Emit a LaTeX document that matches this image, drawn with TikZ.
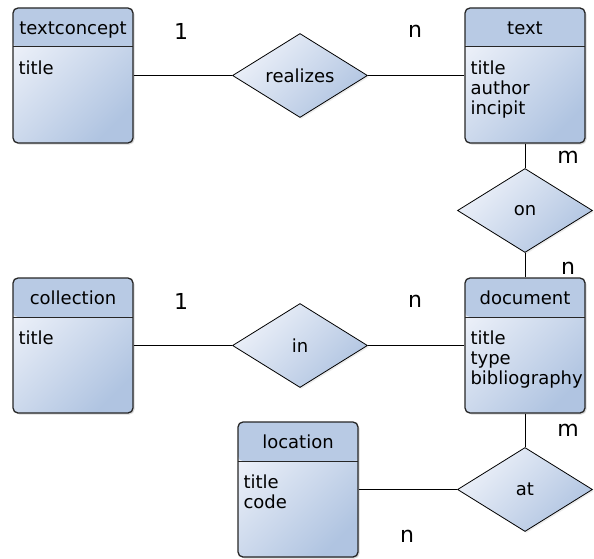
\documentclass[tikz,border=0pt]{standalone}
\usepackage{fontspec}
\setmainfont{DejaVu Sans}
\usetikzlibrary{shapes.geometric,shadows}
\definecolor{headfill}{HTML}{B8CAE4}
\definecolor{bodylight}{HTML}{EDF1F9}
\definecolor{bodydark}{HTML}{B0C4E1}
\tikzset{
  entity/.style={draw=black!85, line width=1.3pt, rounded corners=5pt,
    minimum width=120pt, minimum height=135pt, inner sep=0pt,
    top color=bodylight, bottom color=bodydark, shading angle=45,
    drop shadow={shadow xshift=1.5pt, shadow yshift=-1.5pt, opacity=.3},
    path picture={
      \fill[headfill] (path picture bounding box.north west) rectangle ([yshift=-39pt]path picture bounding box.north east);
      \draw[line width=1pt] ([yshift=-39pt]path picture bounding box.north west) -- ([yshift=-39pt]path picture bounding box.north east);
    }},
  ename/.style={anchor=base, inner sep=0pt, font=\fontsize{18}{20}\selectfont},
  attrs/.style={anchor=north west, align=left, inner sep=0pt, font=\fontsize{18}{20}\selectfont},
  relation/.style={diamond, draw=black, line width=.8pt, minimum width=135pt, minimum height=84pt,
    inner sep=0pt, aspect=1.6, top color=bodylight, bottom color=bodydark, shading angle=45,
    drop shadow={shadow xshift=1.5pt, shadow yshift=-1.5pt, opacity=.15},
    font=\fontsize{18}{20}\selectfont},
  card/.style={inner sep=0pt, font=\fontsize{22}{24}\selectfont},
  link/.style={draw=black, line width=.8pt}
}
\begin{document}
\begin{tikzpicture}[x=1pt,y=-1pt]
\useasboundingbox (0,0) rectangle (594,559);
% entities
\node[entity] (textconcept) at (73,75.5) {};
\node[ename] (textconcept-n) at ([yshift=-27pt]textconcept.north) {textconcept};
\node[attrs] (textconcept-a) at ([xshift=6pt,yshift=-53pt]textconcept.north west) {title};
\node[entity] (text) at (525,75.5) {};
\node[ename] (text-n) at ([yshift=-27pt]text.north) {text};
\node[attrs] (text-a) at ([xshift=6pt,yshift=-53pt]text.north west) {title\\author\\incipit};
\node[entity] (collection) at (73,345.5) {};
\node[ename] (collection-n) at ([yshift=-27pt]collection.north) {collection};
\node[attrs] (collection-a) at ([xshift=6pt,yshift=-53pt]collection.north west) {title};
\node[entity] (document) at (525,345.5) {};
\node[ename] (document-n) at ([yshift=-27pt]document.north) {document};
\node[attrs] (document-a) at ([xshift=6pt,yshift=-53pt]document.north west) {title\\type\\bibliography};
\node[entity] (location) at (298,489.5) {};
\node[ename] (location-n) at ([yshift=-27pt]location.north) {location};
\node[attrs] (location-a) at ([xshift=6pt,yshift=-53pt]location.north west) {title\\code};
% relations
\node[relation] (rel-realizes) at (300,75.5) {realizes};
\node[relation] (rel-on) at (525,210.5) {on};
\node[relation] (rel-in) at (300,345.5) {in};
\node[relation] (rel-at) at (525,489.5) {at};
\draw[link] (textconcept) -- (rel-realizes);
\draw[link] (rel-realizes) -- (text);
\draw[link] (text) -- (rel-on);
\draw[link] (rel-on) -- (document);
\draw[link] (collection) -- (rel-in);
\draw[link] (rel-in) -- (document);
\draw[link] (document) -- (rel-at);
\draw[link] (location) -- (rel-at);
% cardinalities
\node[card] (c1) at (181,31) {1};
\node[card] (c2) at (415,31) {n};
\node[card] (c3) at (568,157) {m};
\node[card] (c4) at (568,268) {n};
\node[card] (c5) at (181,301) {1};
\node[card] (c6) at (415,301) {n};
\node[card] (c7) at (568,430) {m};
\node[card] (c8) at (407,536) {n};
\end{tikzpicture}
\end{document}
